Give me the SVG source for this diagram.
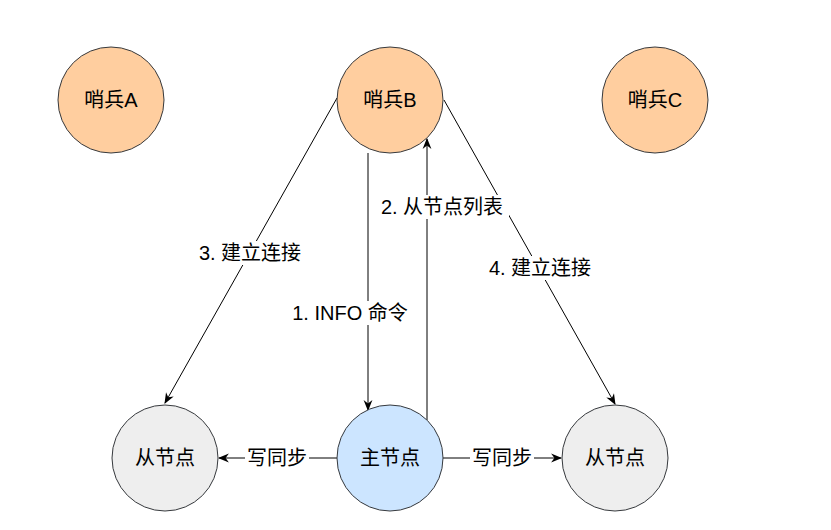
<svg xmlns="http://www.w3.org/2000/svg" width="831" height="530" viewBox="0 0 831 530">
<style>
.n{stroke:#36393d;stroke-width:1}
.s{fill:#ffce9f}
.m{fill:#cce5ff}
.r{fill:#eeeeee}
text{font-family:"Liberation Sans","Noto Sans CJK SC",sans-serif;font-size:20px;fill:#000;text-anchor:middle;dominant-baseline:central}
.c{stroke:#000;stroke-width:1;fill:none;marker-end:url(#a)}
.lb{fill:#fff}
</style>
<defs>
<marker id="a" viewBox="0 0 10 10" refX="9" refY="5" markerWidth="11" markerHeight="11" markerUnits="userSpaceOnUse" orient="auto">
<path d="M0,1 L10,5 L0,9 L3,5 Z" fill="#000"/>
</marker>
</defs>
<rect width="831" height="530" fill="#fff"/>
<g id="connectors">
<line class="c" x1="368" y1="153" x2="368" y2="410"/>
<line class="c" x1="427" y1="420" x2="427" y2="139"/>
<line class="c" x1="337" y1="98" x2="165" y2="403"/>
<line class="c" x1="444" y1="100" x2="615" y2="404"/>
<line class="c" x1="337" y1="458" x2="219" y2="458"/>
<line class="c" x1="443" y1="458" x2="561" y2="458"/>
<rect class="lb" x="375" y="195" width="134" height="24"/>
<text x="442" y="207">2. 从节点列表</text>
<rect class="lb" x="194" y="241" width="112" height="24"/>
<text x="250" y="253">3. 建立连接</text>
<rect class="lb" x="484" y="256" width="112" height="24"/>
<text x="540" y="268">4. 建立连接</text>
<rect class="lb" x="288" y="301" width="124" height="24"/>
<text x="350" y="313">1. INFO 命令</text>
<rect class="lb" x="245" y="446" width="64" height="24"/>
<text x="277" y="458">写同步</text>
<rect class="lb" x="470" y="446" width="64" height="24"/>
<text x="502" y="458">写同步</text>
</g>
<g id="sentinelA"><circle class="n s" cx="111" cy="100" r="53"/><text x="111" y="100">哨兵A</text></g>
<g id="sentinelB"><circle class="n s" cx="390" cy="100" r="53"/><text x="390" y="100">哨兵B</text></g>
<g id="sentinelC"><circle class="n s" cx="655" cy="100" r="53"/><text x="655" y="100">哨兵C</text></g>
<g id="slave1"><circle class="n r" cx="165" cy="458" r="53"/><text x="165" y="458">从节点</text></g>
<g id="master"><circle class="n m" cx="390" cy="458" r="53"/><text x="390" y="458">主节点</text></g>
<g id="slave2"><circle class="n r" cx="615" cy="458" r="53"/><text x="615" y="458">从节点</text></g>
</svg>
